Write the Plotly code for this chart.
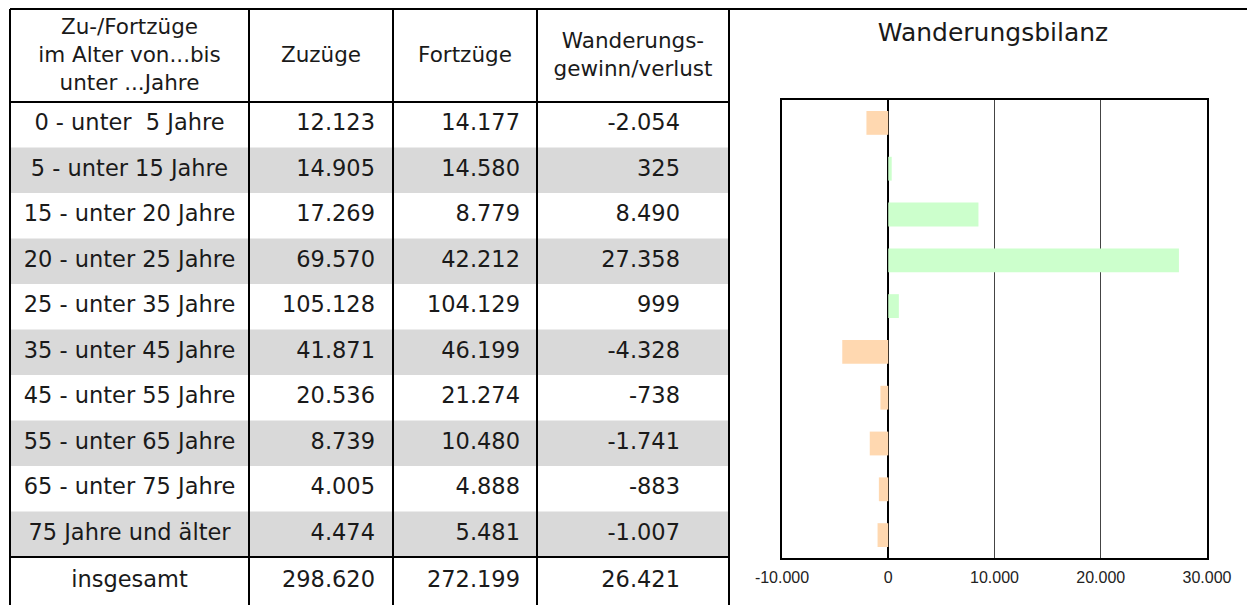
import plotly.graph_objects as go

# ---------------- data ----------------
age_groups = ["0 - unter\u00a0 5 Jahre", "5 - unter 15 Jahre", "15 - unter 20 Jahre",
              "20 - unter 25 Jahre", "25 - unter 35 Jahre", "35 - unter 45 Jahre",
              "45 - unter 55 Jahre", "55 - unter 65 Jahre", "65 - unter 75 Jahre",
              "75 Jahre und älter"]
zuzuege = ["12.123", "14.905", "17.269", "69.570", "105.128", "41.871", "20.536", "8.739", "4.005", "4.474"]
fortzuege = ["14.177", "14.580", "8.779", "42.212", "104.129", "46.199", "21.274", "10.480", "4.888", "5.481"]
saldo_text = ["-2.054", "325", "8.490", "27.358", "999", "-4.328", "-738", "-1.741", "-883", "-1.007"]
saldo = [-2054, 325, 8490, 27358, 999, -4328, -738, -1741, -883, -1007]
total_label = "insgesamt"
total_values = ["298.620", "272.199", "26.421"]
headers = ["Zu-/Fortzüge<br>im Alter von...bis<br>unter ...Jahre", "Zuzüge", "Fortzüge",
           "Wanderungs-<br>gewinn/verlust"]
chart_title = "Wanderungsbilanz"
tick_vals = [-10000, 0, 10000, 20000, 30000]
tick_text = ["-10.000", "0", "10.000", "20.000", "30.000"]

# ---------------- layout geometry ----------------
W, H = 1255, 605
OFF = 8  # page body margin offset

def fx(x): return x - OFF
def fy(y): return y - OFF

col_edges = [10, 249, 393, 537, 729]
top, head_bot, row_h = 9, 102, 45.5
total_top = head_bot + row_h * len(age_groups)
right_pad = [None, 18, 17, 49]

FAM = "DejaVu Sans, Verdana, sans-serif"
HFONT = dict(family=FAM, size=21.5, color="#1a1a1a")
TFONT = dict(family=FAM, size=22.5, color="#1a1a1a")

fig = go.Figure()

# table text via text traces on the full-figure axis (x/y in pixel units)
def text_trace(xs, ys, texts, pos, font):
    fig.add_trace(go.Scatter(x=[fx(v) for v in xs], y=[fy(v) for v in ys], text=texts, mode="text",
                             textposition=pos, textfont=font, hoverinfo="skip",
                             xaxis="x", yaxis="y", cliponaxis=False))

text_trace([(col_edges[c] + col_edges[c + 1]) / 2 for c in range(4)], [(top + head_bot) / 2 + 1] * 4,
           headers, "middle center", HFONT)

row_y = [head_bot + (i + 0.5) * row_h for i in range(len(age_groups))] + [total_top + 24]
labels = age_groups + [total_label]
col1 = zuzuege + [total_values[0]]
col2 = fortzuege + [total_values[1]]
col3 = saldo_text + [total_values[2]]

text_trace([(col_edges[0] + col_edges[1]) / 2] * len(labels), row_y, labels, "middle center", TFONT)
for c, vals in ((1, col1), (2, col2), (3, col3)):
    text_trace([col_edges[c + 1] - right_pad[c]] * len(vals), row_y, vals, "middle left", TFONT)

text_trace([993], [35], [chart_title], "middle center", dict(family=FAM, size=25, color="#1a1a1a"))

# bar chart on its own axes
colors = ["#ffd8b0" if v < 0 else "#ccffcc" for v in saldo]
fig.add_trace(go.Bar(x=saldo, y=age_groups, orientation="h",
                     marker=dict(color=colors, line=dict(width=0)), width=0.52,
                     hoverinfo="x+y", xaxis="x2", yaxis="y2"))

# shapes: grey rows and table lines
shapes = []
for i in range(len(age_groups)):
    if i % 2 == 1:
        y0 = head_bot + i * row_h
        shapes.append(dict(type="rect", xref="x", yref="y", x0=fx(col_edges[0]), x1=fx(col_edges[-1]),
                           y0=fy(y0), y1=fy(y0 + row_h), fillcolor="#d9d9d9", line=dict(width=0),
                           layer="below"))
LINE = dict(color="#000", width=2)
shapes.append(dict(type="line", xref="x", yref="y", x0=fx(col_edges[0]), x1=W, y0=fy(top), y1=fy(top),
                   line=LINE))
for y in (head_bot, total_top):
    shapes.append(dict(type="line", xref="x", yref="y", x0=fx(col_edges[0]), x1=fx(col_edges[-1]),
                       y0=fy(y), y1=fy(y), line=LINE))
for x in col_edges:
    shapes.append(dict(type="line", xref="x", yref="y", x0=fx(x), x1=fx(x), y0=fy(top), y1=H,
                       line=LINE))

fig.update_layout(
    width=W, height=H, margin=dict(l=0, r=0, t=0, b=0, autoexpand=False),
    paper_bgcolor="white", plot_bgcolor="rgba(0,0,0,0)", showlegend=False,
    shapes=shapes,
    xaxis=dict(domain=[0, 1], range=[0, W], visible=False, fixedrange=True),
    yaxis=dict(domain=[0, 1], range=[H, 0], visible=False, fixedrange=True),
    xaxis2=dict(domain=[fx(782) / W, fx(1207) / W], anchor="y2", range=[-10000, 30000],
                tickvals=tick_vals, ticktext=tick_text,
                showgrid=True, gridcolor="#444", gridwidth=1, zeroline=True, zerolinecolor="#000",
                zerolinewidth=2, showline=True, linecolor="#000", linewidth=2, mirror=True,
                ticks="", ticklabelstandoff=4,
                tickfont=dict(family="Liberation Sans, Arial, sans-serif", size=16, color="#222"),
                fixedrange=True),
    yaxis2=dict(domain=[1 - fy(558) / H, 1 - fy(100) / H], anchor="x2", autorange="reversed",
                showticklabels=False, showgrid=False, showline=True, linecolor="#000", linewidth=2,
                mirror=True, ticks="", fixedrange=True),
)

fig.write_html("out.html")
